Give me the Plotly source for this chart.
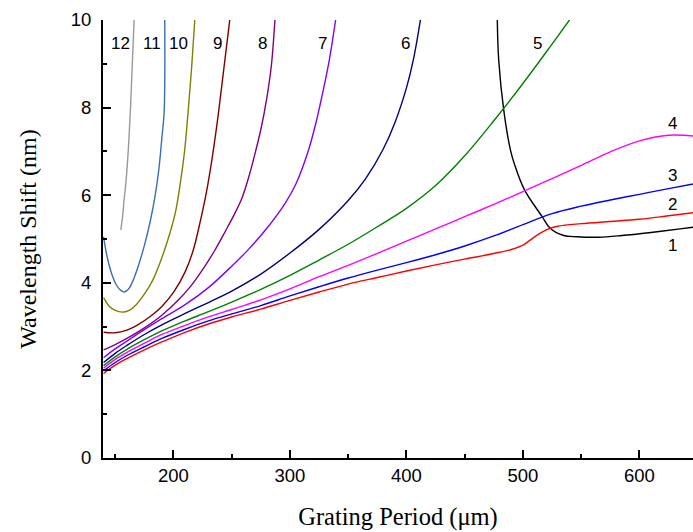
import plotly.graph_objects as go

# ---- data (Grating period in um, wavelength shift in nm) ----
c1_x = [478, 479.2, 483.5, 489.3, 492.7, 501, 516.5, 523.6, 535, 546.5, 565, 585, 610, 635, 655]
c1_y = [10, 9.09, 7.95, 7.03, 6.71, 6.14, 5.51, 5.24, 5.08, 5.05, 5.04, 5.08, 5.15, 5.23, 5.30]

c2_x = [140, 150, 160, 175, 190, 210, 230, 250, 275, 300, 325, 350, 375, 400, 425, 450, 475, 490, 500, 510, 520, 530, 550, 575, 600, 625, 655]
c2_y = [1.93, 2.12, 2.27, 2.47, 2.65, 2.87, 3.06, 3.22, 3.40, 3.60, 3.79, 3.97, 4.12, 4.27, 4.41, 4.54, 4.67, 4.76, 4.86, 5.05, 5.21, 5.29, 5.35, 5.40, 5.45, 5.53, 5.63]

c3_x = [140, 150, 160, 175, 190, 210, 230, 250, 275, 300, 325, 350, 375, 400, 425, 450, 475, 500, 525, 550, 575, 600, 625, 655]
c3_y = [1.99, 2.18, 2.34, 2.54, 2.73, 2.94, 3.13, 3.29, 3.48, 3.70, 3.91, 4.11, 4.29, 4.46, 4.64, 4.84, 5.07, 5.33, 5.58, 5.75, 5.89, 6.02, 6.15, 6.30]

c4_x = [140, 150, 160, 175, 190, 210, 230, 250, 275, 300, 325, 350, 375, 400, 425, 450, 475, 500, 525, 550, 575, 600, 625, 655]
c4_y = [2.05, 2.25, 2.41, 2.62, 2.82, 3.03, 3.22, 3.39, 3.61, 3.86, 4.14, 4.40, 4.67, 4.95, 5.23, 5.51, 5.79, 6.08, 6.38, 6.68, 6.99, 7.24, 7.37, 7.33]

c5_x = [140, 150, 160, 175, 190, 210, 230, 250, 275, 300, 325, 350, 375, 400, 425, 450, 475, 500, 525, 540]
c5_y = [2.11, 2.31, 2.48, 2.70, 2.90, 3.13, 3.34, 3.56, 3.85, 4.17, 4.52, 4.88, 5.28, 5.70, 6.22, 6.90, 7.70, 8.55, 9.45, 10.0]

c6_x = [140, 150, 160, 175, 190, 210, 230, 250, 275, 300, 325, 350, 365, 380, 390, 400, 406, 412]
c6_y = [2.18, 2.39, 2.57, 2.82, 3.04, 3.30, 3.55, 3.81, 4.20, 4.68, 5.22, 5.88, 6.38, 7.05, 7.65, 8.45, 9.1, 10.0]

c7_x = [140, 150, 160, 175, 190, 210, 230, 250, 265, 280, 295, 305, 315, 322, 329, 334, 339.2]
c7_y = [2.29, 2.49, 2.67, 2.93, 3.18, 3.50, 3.89, 4.38, 4.78, 5.24, 5.78, 6.25, 6.95, 7.62, 8.45, 9.12, 10.0]

c8_x = [140, 150, 160, 175, 190, 205, 215, 225, 235, 245, 252, 259, 265, 270, 275, 280, 284, 287.1]
c8_y = [2.47, 2.59, 2.73, 2.97, 3.26, 3.63, 3.93, 4.30, 4.72, 5.20, 5.55, 5.95, 6.45, 6.95, 7.50, 8.20, 8.95, 10.0]

c9_x = [140, 150, 160, 170, 180, 190, 200, 210, 217, 223.4, 228.5, 233.5, 238.5, 243.3, 248.3]
c9_y = [2.87, 2.86, 2.92, 3.05, 3.23, 3.46, 3.78, 4.25, 4.75, 5.45, 6.10, 6.90, 7.85, 8.90, 10.0]

c10_x = [140, 145, 150, 156, 162, 168, 175, 182, 189, 196, 202, 206, 209.5, 212.5, 215.5, 218.3]
c10_y = [3.66, 3.46, 3.37, 3.33, 3.37, 3.50, 3.74, 4.05, 4.50, 5.05, 5.65, 6.30, 7.00, 7.88, 8.88, 10.0]

c11_x = [140, 143, 147, 151, 155, 158, 162, 166, 170, 175, 180, 184, 187.5, 190, 192, 192.5]
c11_y = [5.05, 4.60, 4.20, 3.95, 3.82, 3.79, 3.88, 4.10, 4.40, 4.85, 5.40, 5.95, 6.60, 7.30, 7.90, 10.0]

c12_x = [154.8, 156.3, 157.6, 159.1, 161.2, 163.4, 166.2]
c12_y = [5.21, 5.51, 5.89, 6.27, 7.03, 8.17, 10.0]

series = [
    ("1", c1_x, c1_y, "#000000"),
    ("2", c2_x, c2_y, "#FF0000"),
    ("3", c3_x, c3_y, "#0000FF"),
    ("4", c4_x, c4_y, "#FF00FF"),
    ("5", c5_x, c5_y, "#008000"),
    ("6", c6_x, c6_y, "#000080"),
    ("7", c7_x, c7_y, "#8000FF"),
    ("8", c8_x, c8_y, "#800080"),
    ("9", c9_x, c9_y, "#800000"),
    ("10", c10_x, c10_y, "#808000"),
    ("11", c11_x, c11_y, "#3A6EB4"),
    ("12", c12_x, c12_y, "#999999"),
]

label_text = ["12", "11", "10", "9", "8", "7", "6", "5", "4", "3", "2", "1"]
label_x = [154.8, 181.4, 204.5, 238, 276.6, 328, 399.2, 512.4, 628.3, 628.3, 628.3, 628.3]
label_y = [9.47, 9.47, 9.47, 9.47, 9.47, 9.47, 9.47, 9.47, 7.63, 6.46, 5.78, 4.86]

fig = go.Figure()
for name, xs, ys, col in series:
    fig.add_trace(go.Scatter(x=xs, y=ys, mode="lines", name=name,
                             line=dict(color=col, width=1.4, shape="spline", smoothing=1.0),
                             showlegend=False))

for t, x, y in zip(label_text, label_x, label_y):
    fig.add_annotation(x=x, y=y, xref="x", yref="y", text=t, showarrow=False,
                       font=dict(family="Liberation Sans, Arial", size=17, color="black"))

fig.update_layout(
    width=693, height=532,
    margin=dict(l=103, r=0, t=20, b=74),
    plot_bgcolor="white", paper_bgcolor="white",
    font=dict(family="Liberation Sans, Arial", size=18, color="black"),
)
fig.update_xaxes(
    range=[139.5, 646], showline=True, linewidth=2, linecolor="black",
    ticks="inside", ticklen=8, tickwidth=1.5, tickcolor="black",
    tick0=0, dtick=100, showgrid=False, zeroline=False,
    minor=dict(ticks="inside", ticklen=4, tickwidth=1.5, tickcolor="black", dtick=50, tick0=0, showgrid=False),
    tickfont=dict(family="Liberation Sans, Arial", size=18.5, color="black"),
    title=dict(text="Grating Period (μm)", standoff=23,
               font=dict(family="Liberation Serif, Times New Roman", size=24.5, color="black")),
)
fig.update_yaxes(
    range=[0, 10], showline=True, linewidth=2, linecolor="black",
    ticks="inside", ticklen=8, tickwidth=1.5, tickcolor="black",
    tick0=0, dtick=2, showgrid=False, zeroline=False,
    minor=dict(ticks="inside", ticklen=4, tickwidth=1.5, tickcolor="black", dtick=1, tick0=0, showgrid=False),
    tickfont=dict(family="Liberation Sans, Arial", size=18.5, color="black"),
    ticklabelstandoff=6,
    title=dict(text="Wavelength Shift (nm)", standoff=27,
               font=dict(family="Liberation Serif, Times New Roman", size=24, color="black")),
)

fig.write_html("out.html",
               config={"displayModeBar": False},
               post_script="document.body.style.margin='0';document.body.style.overflow='hidden';")
